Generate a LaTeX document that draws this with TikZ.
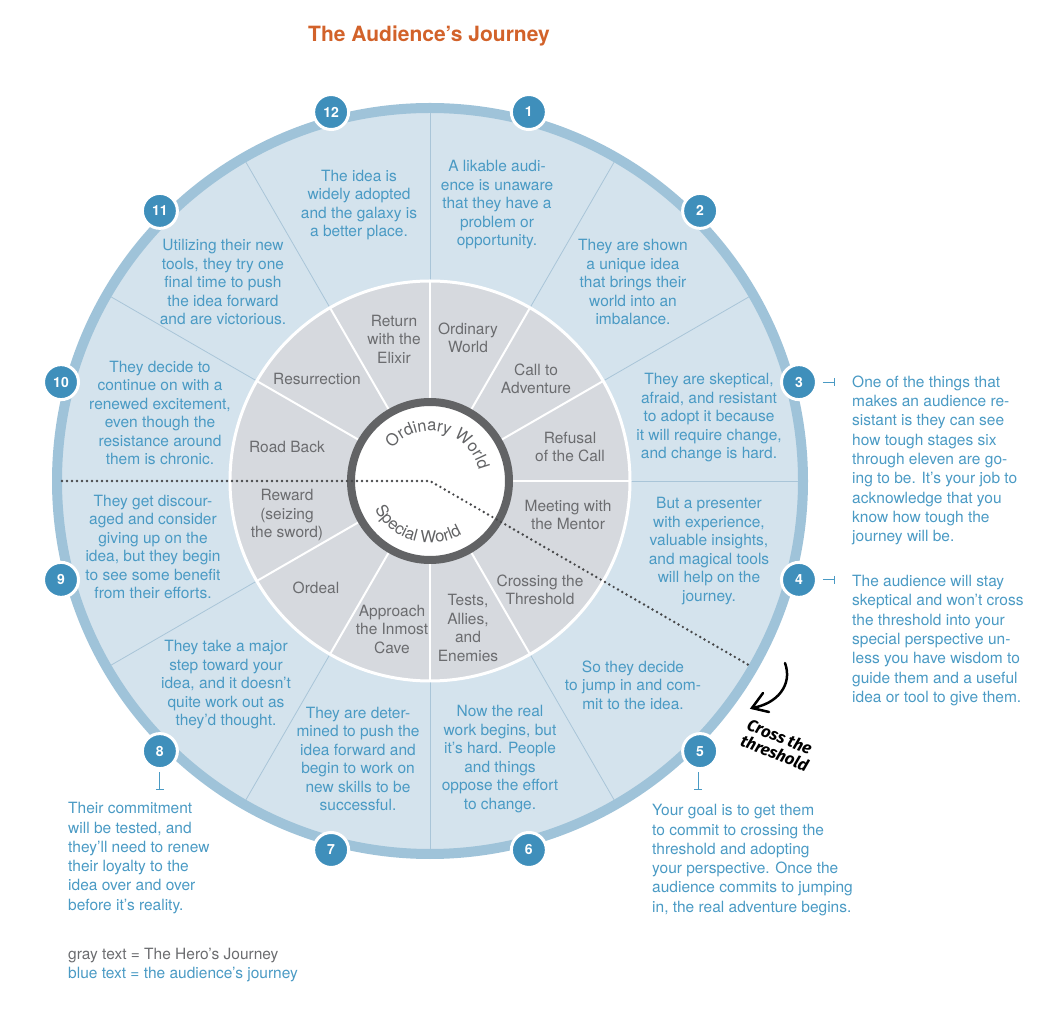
\documentclass[tikz,border=0pt]{standalone}
\usepackage{fontspec}
\setmainfont{TeX Gyre Heros}
\newfontfamily\handfont{Fira Sans}
\usetikzlibrary{decorations.text,arrows.meta}
\definecolor{bluefill}{HTML}{D4E3ED}
\definecolor{ringblue}{HTML}{9FC3D9}
\definecolor{secline}{HTML}{A9C5D8}
\definecolor{grayfill}{HTML}{D6D9DE}
\definecolor{darkring}{HTML}{626365}
\definecolor{badgeblue}{HTML}{3F8FBB}
\definecolor{bluetext}{HTML}{4A9AC4}
\definecolor{graytext}{HTML}{6B6C6F}
\definecolor{titleorange}{HTML}{D2622A}
\definecolor{dotgray}{HTML}{47484A}
\begin{document}
\begin{tikzpicture}[x=1pt,y=1pt,
  btext/.style={text=bluetext, align=center, inner sep=0pt, font=\fontsize{15.5}{18.5}\selectfont},
  gtext/.style={text=graytext, align=center, inner sep=0pt, font=\fontsize{15.5}{18.5}\selectfont},
  note/.style={text=bluetext, align=left, anchor=west, inner sep=0pt, font=\fontsize{15.5}{19.3}\selectfont},
  badge/.style={circle, fill=badgeblue, draw=white, line width=3pt, minimum size=35pt, inner sep=0pt, text=white, font=\bfseries\fontsize{14}{14}\selectfont},
  tick/.style={draw=bluetext, line width=0.8pt, -{Bar[width=8pt,line width=0.8pt]}},
  dotline/.style={draw=dotgray, line width=2.7pt, line cap=round, dash pattern=on 0pt off 5pt},
  handline/.style={draw=black, line width=2.5pt, line cap=round},
]
\useasboundingbox (0,0) rectangle (1047,1010);
\coordinate (C) at (430,529);
\node[text=titleorange, font=\bfseries\fontsize{21}{21}\selectfont, inner sep=0pt] (title) at (429,974) {The Audience’s Journey};
\begin{scope}[shift={(C)}]
  \fill[bluefill] (0,0) circle (370);
  \draw[ringblue, line width=10pt] (0,0) circle (373);
  \foreach \a in {0,30,60,90,120,150,210,240,270,300}
    \draw[secline, line width=0.8pt] (\a:200) -- (\a:368);
  \fill[grayfill] (0,0) circle (200);
  \draw[white, line width=3pt] (0,0) circle (200);
  \foreach \a in {0,30,60,90,120,150,210,240,270,300}
    \draw[white, line width=2pt] (\a:83) -- (\a:200);
  \fill[white] (0,0) circle (79);
  \draw[darkring, line width=8pt] (0,0) circle (79);
  \coordinate (dl) at (180:368);
  \coordinate (dc) at (0,0);
  \coordinate (dr) at (-30:368);
  \draw[dotline] (dl) -- (dc) -- (dr);
  \path[decorate, decoration={text along path, text align=center, text color=darkring,
     text={|\fontsize{16.5}{16.5}\selectfont|Ordinary World}}]
     (140:50) arc[start angle=140, end angle=12, radius=50];
  \path[decorate, decoration={text along path, text align=center, text color=darkring,
     text={|\fontsize{16.5}{16.5}\selectfont|Special World}}]
     (195:62) arc[start angle=195, end angle=313, radius=62];
  \foreach \n/\a in {1/75,2/45,3/15,4/-15,5/-45,6/-75,7/-105,8/-135,9/-165,10/165,11/135,12/105}
    \node[badge] (b\n) at (\a:382) {\n};
\end{scope}

% blue (audience) texts
\node[btext] (t1) at (497,805) {A likable audi-\\ence is unaware\\that they have a\\problem or\\opportunity.};
\node[btext] (t2) at (633,728) {They are shown\\a unique idea\\that brings their\\world into an\\imbalance.};
\node[btext] (t3) at (709,592) {They are skeptical,\\afraid, and resistant\\to adopt it because\\it will require change,\\and change is hard.};
\node[btext] (t4) at (709,459) {But a presenter\\with experience,\\valuable insights,\\and magical tools\\will help on the\\journey.};
\node[btext] (t5) at (633,325) {So they decide\\to jump in and com-\\mit to the idea.};
\node[btext] (t6) at (500,251) {Now the real\\work begins, but\\it’s hard. People\\and things\\oppose the effort\\to change.};
\node[btext] (t7) at (358,251) {They are deter-\\mined to push the\\idea forward and\\begin to work on\\new skills to be\\successful.};
\node[btext] (t8) at (226,325) {They take a major\\step toward your\\idea, and it doesn’t\\quite work out as\\they’d thought.};
\node[btext] (t9) at (153,463) {They get discour-\\aged and consider\\giving up on the\\idea, but they begin\\to see some benefit\\from their efforts.};
\node[btext] (t10) at (160,597) {They decide to\\continue on with a\\renewed excitement,\\even though the\\resistance around\\them is chronic.};
\node[btext] (t11) at (223,728) {Utilizing their new\\tools, they try one\\final time to push\\the idea forward\\and are victorious.};
\node[btext] (t12) at (359,805) {The idea is\\widely adopted\\and the galaxy is\\a better place.};

% gray (hero) texts
\node[gtext] (h1) at (468,672) {Ordinary\\World};
\node[gtext] (h2) at (536,631) {Call to\\Adventure};
\node[gtext] (h3) at (570,563) {Refusal\\of the Call};
\node[gtext] (h4) at (568,495) {Meeting with\\the Mentor};
\node[gtext] (h5) at (540,420) {Crossing the\\Threshold};
\node[gtext] (h6) at (468,382) {Tests,\\Allies,\\and\\Enemies};
\node[gtext] (h7) at (392,381) {Approach\\the Inmost\\Cave};
\node[gtext] (h8) at (316,422) {Ordeal};
\node[gtext] (h9) at (287,495) {Reward\\(seizing\\the sword)};
\node[gtext] (h10) at (287,563) {Road Back};
\node[gtext] (h11) at (317,631) {Resurrection};
\node[gtext] (h12) at (394,671) {Return\\with the\\Elixir};

% side notes
\node[note] (n3) at (852,549.5) {One of the things that\\makes an audience re-\\sistant is they can see\\how tough stages six\\through eleven are go-\\ing to be. It’s your job to\\acknowledge that you\\know how tough the\\journey will be.};
\node[note] (n4) at (852,369.5) {The audience will stay\\skeptical and won’t cross\\the threshold into your\\special perspective un-\\less you have wisdom to\\guide them and a useful\\idea or tool to give them.};
\node[note] (n5) at (652,150) {Your goal is to get them\\to commit to crossing the\\threshold and adopting\\your perspective. Once the\\audience commits to jumping\\in, the real adventure begins.};
\node[note] (n8) at (68,152) {Their commitment\\will be tested, and\\they’ll need to renew\\their loyalty to the\\idea over and over\\before it’s reality.};

\draw[tick] ([xshift=5pt]b3.east) -- ++(12,0);
\draw[tick] ([xshift=5pt]b4.east) -- ++(12,0);
\draw[tick] ([xshift=-2pt,yshift=-2pt]b5.south) -- ++(0,-18);
\draw[tick] ([yshift=-2pt]b8.south) -- ++(0,-18);

% legend
\node[text=graytext, anchor=west, inner sep=0pt, font=\fontsize{15.5}{18}\selectfont] (leg1) at (68,54) {gray text = The Hero’s Journey};
\node[text=bluetext, anchor=west, inner sep=0pt, font=\fontsize{15.5}{18}\selectfont] (leg2) at (68,35) {blue text = the audience’s journey};

% hand-drawn arrow and label
\coordinate (ha) at (785,347);
\coordinate (hb) at (752,302);
\coordinate (hu) at (763,317);
\coordinate (hl) at (769,298);
\draw[handline] (ha) .. controls (793,325) and (777,306) .. (hb);
\draw[handline] (hu) -- (hb) -- (hl);
\node[rotate=-22, align=left, inner sep=0pt, font=\handfont\itshape\bfseries\fontsize{16.5}{17}\selectfont] (cross) at (778,265) {Cross the\\threshold};
\end{tikzpicture}
\end{document}
